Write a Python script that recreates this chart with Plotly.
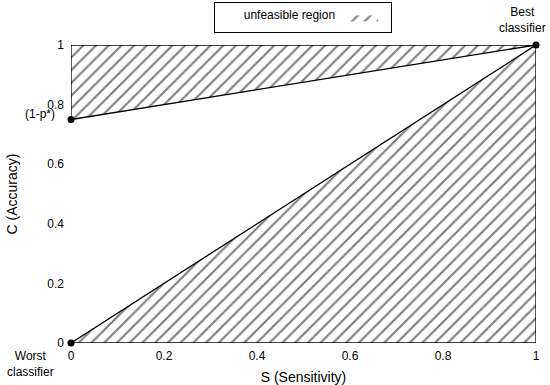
import plotly.graph_objects as go

# Data
p_star = 0.25
upper_x = [0, 1, 0]
upper_y = [1 - p_star, 1, 1]
lower_x = [0, 1, 1]
lower_y = [0, 1, 0]
pts_x = [0, 0, 1]
pts_y = [0, 1 - p_star, 1]
ticks = [0, 0.2, 0.4, 0.6, 0.8, 1]
tick_labels = ["0", "0.2", "0.4", "0.6", "0.8", "1"]
legend_label = "unfeasible region"

FONT = "Liberation Sans, Arial, Helvetica, sans-serif"
pattern = dict(shape="/", size=9, solidity=0.24, fgcolor="black", bgcolor="white")

fig = go.Figure()
# hatched regions
fig.add_trace(go.Scatter(x=upper_x, y=upper_y, fill="toself", mode="lines",
                         line=dict(color="black", width=0), fillcolor="white",
                         fillpattern=pattern, name="\u00a0", showlegend=True,
                         hoverinfo="skip"))
fig.add_trace(go.Scatter(x=lower_x, y=lower_y, fill="toself", mode="lines",
                         line=dict(color="black", width=0), fillcolor="white",
                         fillpattern=pattern, showlegend=False, hoverinfo="skip"))
# region outlines
fig.add_trace(go.Scatter(x=upper_x + [upper_x[0]], y=upper_y + [upper_y[0]],
                         mode="lines", line=dict(color="black", width=1.3),
                         showlegend=False, cliponaxis=False))
fig.add_trace(go.Scatter(x=lower_x + [lower_x[0]], y=lower_y + [lower_y[0]],
                         mode="lines", line=dict(color="black", width=1.3),
                         showlegend=False, cliponaxis=False))
fig.add_trace(go.Scatter(x=pts_x, y=pts_y, mode="markers",
                         marker=dict(color="black", size=7), showlegend=False,
                         cliponaxis=False))

fig.add_annotation(x=0, y=1 - p_star, text="(1-p*)", showarrow=False,
                   xanchor="right", yanchor="middle", xshift=-14, yshift=6,
                   font=dict(size=12, color="black"))
fig.add_annotation(x=0, y=0, text="Worst<br>classifier", showarrow=False,
                   xanchor="right", yanchor="top", xshift=-15, yshift=-4,
                   align="center", font=dict(size=12, color="black"))
fig.add_annotation(x=1, y=1, text="Best<br>classifier", showarrow=False,
                   xanchor="center", yanchor="bottom", xshift=-14, yshift=8,
                   align="center", font=dict(size=12, color="black"))

fig.update_layout(
    width=550, height=385,
    margin=dict(l=71, r=14, t=45, b=42, autoexpand=False),
    paper_bgcolor="white", plot_bgcolor="white",
    font=dict(family=FONT, size=12, color="black"),
    legend=dict(title=dict(text="\u00a0" * 8 + legend_label, side="left",
                           font=dict(size=12, family=FONT)),
                orientation="h", x=0.551, xanchor="center", xref="container",
                y=0.995, yanchor="top", yref="container",
                bordercolor="black", borderwidth=1, bgcolor="white",
                font=dict(size=8), itemwidth=30, tracegroupgap=0),
    xaxis=dict(range=[0, 1], tickvals=ticks, ticktext=tick_labels,
               showgrid=False, zeroline=False, showline=False, ticks="",
               ticklabelstandoff=4,
               title=dict(text="S (Sensitivity)", standoff=10),
               tickfont=dict(size=12)),
    yaxis=dict(range=[0, 1], tickvals=ticks, ticktext=tick_labels,
               showgrid=False, zeroline=False, showline=False, ticks="",
               ticklabelstandoff=6,
               title=dict(text="C (Accuracy)", standoff=26),
               tickfont=dict(size=12)),
)

fig.write_html("out.html", config={"displayModeBar": False},
               post_script="document.body.style.margin='0';document.body.style.padding='0';")
